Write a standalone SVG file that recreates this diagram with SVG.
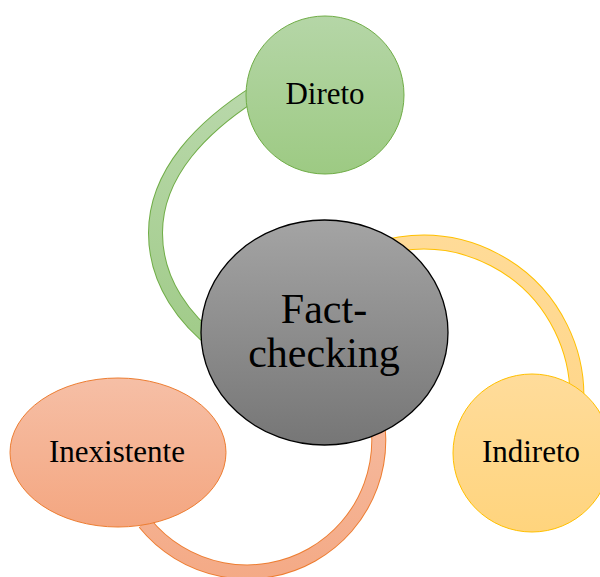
<svg xmlns="http://www.w3.org/2000/svg" width="600" height="577" viewBox="0 0 600 577">
<defs>
<linearGradient id="gGreen" x1="0" y1="0" x2="0" y2="1"><stop offset="0" stop-color="#b5d6a7"/><stop offset="1" stop-color="#9dca83"/></linearGradient>
<linearGradient id="gYellow" x1="0" y1="0" x2="0" y2="1"><stop offset="0" stop-color="#ffdc9b"/><stop offset="1" stop-color="#ffd47d"/></linearGradient>
<linearGradient id="gOrange" x1="0" y1="0" x2="0" y2="1"><stop offset="0" stop-color="#f6bfa6"/><stop offset="1" stop-color="#f4a680"/></linearGradient>
<linearGradient id="gGray" x1="0" y1="0" x2="0" y2="1"><stop offset="0" stop-color="#a4a4a4"/><stop offset="1" stop-color="#767676"/></linearGradient>
<linearGradient id="bGreen" gradientUnits="userSpaceOnUse" x1="0" y1="85" x2="0" y2="350"><stop offset="0" stop-color="#b9d8ab"/><stop offset="1" stop-color="#a0cb88"/></linearGradient>
<linearGradient id="bYellow" gradientUnits="userSpaceOnUse" x1="0" y1="235" x2="0" y2="430"><stop offset="0" stop-color="#ffdb98"/><stop offset="1" stop-color="#ffd689"/></linearGradient>
<linearGradient id="bOrange" gradientUnits="userSpaceOnUse" x1="0" y1="390" x2="0" y2="577"><stop offset="0" stop-color="#f6bca2"/><stop offset="1" stop-color="#f4aa86"/></linearGradient>
</defs>
<style>
.edge{fill:none;stroke-linecap:butt}
.lbl{font-family:"Liberation Serif","Times New Roman",serif;fill:#000;text-anchor:middle}
</style>
<g id="connectors">
<path class="edge" d="M258,91 C202.75,125.45 155.5,173 155.5,233 C155.5,283 186,321 218,345" stroke="#70ad47" stroke-width="15"/>
<path class="edge" d="M258,91 C202.75,125.45 155.5,173 155.5,233 C155.5,283 186,321 218,345" stroke="url(#bGreen)" stroke-width="13"/>
<path class="edge" d="M314.3,287.3 A153.7,153.7 0 0 1 574.4,422.7" stroke="#ffc000" stroke-width="15"/>
<path class="edge" d="M314.3,287.3 A153.7,153.7 0 0 1 574.4,422.7" stroke="url(#bYellow)" stroke-width="13"/>
<path class="edge" d="M370.8,395 A131.7,131.7 0 0 1 144.6,522.9" stroke="#ed7d31" stroke-width="15"/>
<path class="edge" d="M370.8,395 A131.7,131.7 0 0 1 144.6,522.9" stroke="url(#bOrange)" stroke-width="13"/>
</g>
<g id="direto">
<circle cx="325" cy="95" r="79" fill="url(#gGreen)" stroke="#70ad47" stroke-width="1"/>
<text class="lbl" x="325" y="104" font-size="31">Direto</text>
</g>
<g id="indireto">
<circle cx="532" cy="453" r="79" fill="url(#gYellow)" stroke="#ffc000" stroke-width="1"/>
<text class="lbl" x="531" y="462" font-size="31">Indireto</text>
</g>
<g id="inexistente">
<ellipse cx="118" cy="452.5" rx="108" ry="74.5" fill="url(#gOrange)" stroke="#ed7d31" stroke-width="1"/>
<text class="lbl" x="117" y="462" font-size="31">Inexistente</text>
</g>
<g id="fact-checking">
<ellipse cx="324.5" cy="332.5" rx="123.5" ry="112.5" fill="url(#gGray)" stroke="#000" stroke-width="1.3"/>
<text class="lbl" x="324" y="323" font-size="42">Fact-</text>
<text class="lbl" x="324" y="367" font-size="42">checking</text>
</g>
</svg>
